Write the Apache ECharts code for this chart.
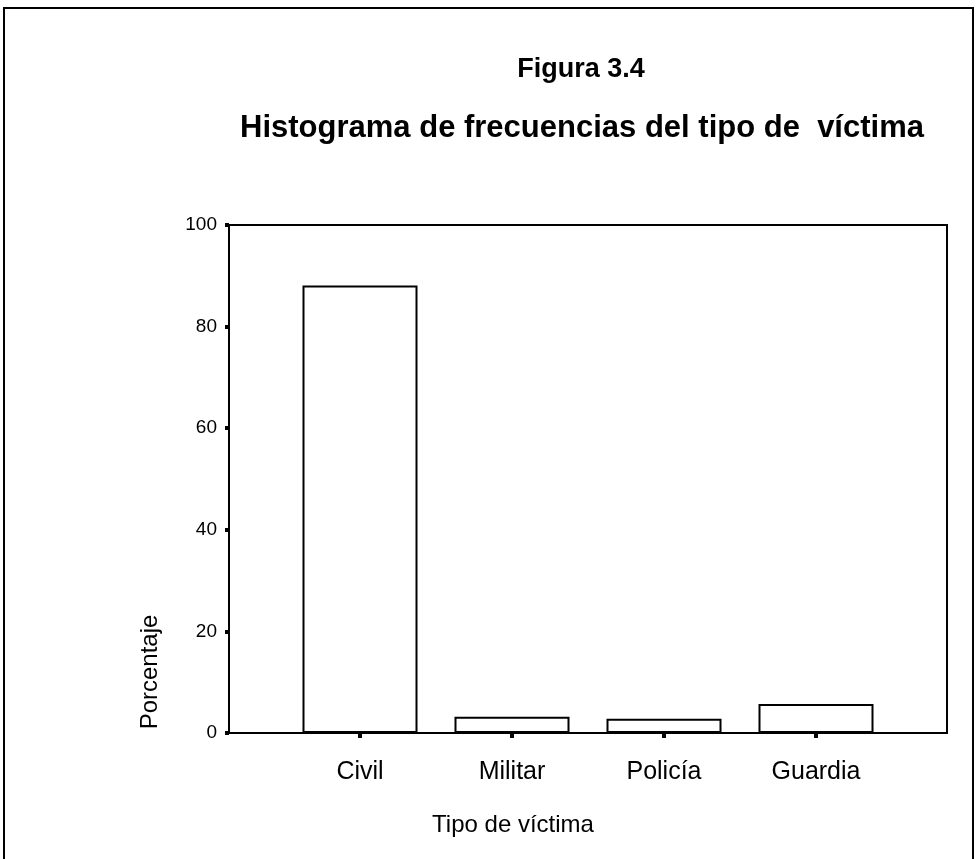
<!DOCTYPE html>
<html>
<head>
<meta charset="utf-8">
<title>Figura 3.4</title>
<script src="https://cdn.jsdelivr.net/npm/echarts@6/dist/echarts.min.js"></script>
<style>
  html, body { margin: 0; padding: 0; background: #fff; }
  #chart { width: 976px; height: 859px; }
</style>
</head>
<body>
<div id="chart"></div>
<script>
// datos
const categorias = ['Civil', 'Militar', 'Policía', 'Guardia']
const porcentajes = [88.1, 3.2, 2.8, 5.7]
const yTicks = [0, 20, 40, 60, 80, 100]

const font = '"Liberation Sans", Arial, sans-serif'
const chart = echarts.init(document.getElementById('chart'))

const option = {
  backgroundColor: '#fff',
  animation: false,
  grid: [
    // marco del grafico
    { show: true, left: 229, right: 29, top: 225, bottom: 126, borderColor: '#000', borderWidth: 2, backgroundColor: 'transparent' },
    // zona de las barras
    { left: 284, right: 84, top: 225, bottom: 126 }
  ],
  xAxis: [
    { gridIndex: 0, type: 'value', min: 0, max: 1, show: false },
    {
      gridIndex: 1,
      type: 'category',
      data: categorias,
      axisLine: { show: false },
      axisTick: { show: true, alignWithLabel: true, length: 5, lineStyle: { color: '#000', width: 4 } },
      axisLabel: { color: '#000', fontSize: 25, fontFamily: font, margin: 27 }
    }
  ],
  yAxis: [
    {
      gridIndex: 0,
      type: 'value',
      min: yTicks[0],
      max: yTicks[yTicks.length - 1],
      interval: yTicks[1] - yTicks[0],
      axisLine: { show: false },
      axisTick: { show: true, length: 4, lineStyle: { color: '#000', width: 4 } },
      axisLabel: { color: '#000', fontSize: 19, fontFamily: font, margin: 12 },
      splitLine: { show: false }
    },
    { gridIndex: 1, type: 'value', min: 0, max: 100, show: false }
  ],
  series: [
    {
      type: 'bar',
      xAxisIndex: 1,
      yAxisIndex: 1,
      data: porcentajes,
      barWidth: 115,
      itemStyle: { color: '#fff', borderColor: '#000', borderWidth: 2 }
    }
  ],
  graphic: [
    { type: 'rect', shape: { x: 4, y: 8, width: 969, height: 870 }, style: { fill: 'none', stroke: '#000', lineWidth: 2 }, z: 100 },
    { type: 'text', x: 581, y: 70, style: { text: 'Figura 3.4', align: 'center', verticalAlign: 'middle', font: 'bold 27px ' + font, fill: '#000' } },
    { type: 'text', x: 582, y: 128, style: { text: 'Histograma de frecuencias del tipo de  víctima', align: 'center', verticalAlign: 'middle', font: 'bold 31px ' + font, fill: '#000' } },
    { type: 'text', x: 513, y: 825, style: { text: 'Tipo de víctima', align: 'center', verticalAlign: 'middle', font: '24px ' + font, fill: '#000' } },
    { type: 'text', x: 150, y: 672, rotation: Math.PI / 2, style: { text: 'Porcentaje', align: 'center', verticalAlign: 'middle', font: '24px ' + font, fill: '#000' } }
  ]
}

chart.setOption(option)
</script>
</body>
</html>
